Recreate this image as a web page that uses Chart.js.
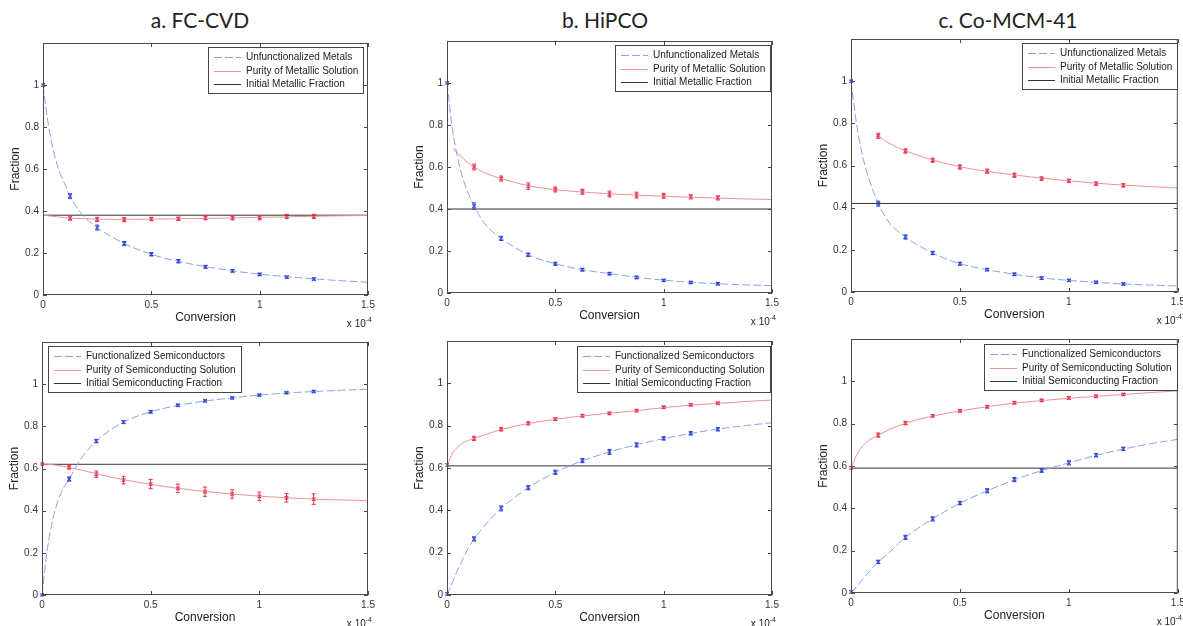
<!DOCTYPE html>
<html>
<head>
<meta charset="utf-8">
<script src="https://cdn.jsdelivr.net/npm/chart.js@4.4.1/dist/chart.umd.min.js"></script>
<style>
body { margin: 0; background: #fff; width: 1183px; height: 626px; overflow: hidden; position: relative; }
.title { position: absolute; top: 7px; font-family: Lato, 'Open Sans', sans-serif; font-size: 21px; color: #222; transform: translateX(-50%); white-space: nowrap; }
canvas { position: absolute; }
</style>
</head>
<body>
<script>
// x values are in units of 1e-4 (shown as "x 10^-4" under each axis)
const curveX = [0, 0.025, 0.05, 0.075, 0.1, 0.125, 0.175, 0.25, 0.375, 0.5, 0.625, 0.75, 0.875, 1, 1.125, 1.25, 1.375, 1.5];
const markerX = [0, 0.125, 0.25, 0.375, 0.5, 0.625, 0.75, 0.875, 1, 1.125, 1.25];
const xTicks = [0, 0.5, 1, 1.5];
const yTicks = [0, 0.2, 0.4, 0.6, 0.8, 1];

const titles = ['a. FC-CVD', 'b. HiPCO', 'c. Co-MCM-41'];
const topLegend = ['Unfunctionalized Metals', 'Purity of Metallic Solution', 'Initial Metallic Fraction'];
const bottomLegend = ['Functionalized Semiconductors', 'Purity of Semiconducting Solution', 'Initial Semiconducting Fraction'];

// a. FC-CVD, metals
const aMetalCurve = [1.0, 0.81, 0.68, 0.59, 0.53, 0.471, 0.39, 0.321, 0.245, 0.194, 0.160, 0.135, 0.115, 0.099, 0.087, 0.077, 0.068, 0.061];
const aMetalPts = [1.0, 0.471, 0.321, 0.245, 0.194, 0.161, 0.134, 0.115, 0.098, 0.085, 0.076];
const aMetalErr = [0.005, 0.012, 0.012, 0.01, 0.008, 0.008, 0.007, 0.006, 0.006, 0.005, 0.005];
const aMetPurityCurve = [0.38, 0.377, 0.374, 0.371, 0.368, 0.366, 0.364, 0.361, 0.360, 0.361, 0.363, 0.365, 0.367, 0.370, 0.372, 0.375, 0.377, 0.379];
const aMetPurityPts = [null, 0.366, 0.360, 0.359, 0.362, 0.363, 0.368, 0.368, 0.368, 0.374, 0.374];
const aMetPurityErr = [0, 0.01, 0.01, 0.01, 0.008, 0.008, 0.01, 0.01, 0.01, 0.01, 0.01];
const aMetInitial = 0.38;

// b. HiPCO, metals
const bMetalCurve = [1.0, 0.78, 0.64, 0.54, 0.47, 0.414, 0.33, 0.26, 0.182, 0.139, 0.111, 0.092, 0.075, 0.061, 0.051, 0.044, 0.039, 0.035];
const bMetalPts = [1.0, 0.414, 0.26, 0.182, 0.139, 0.111, 0.092, 0.074, 0.060, 0.050, 0.044];
const bMetalErr = [0.005, 0.015, 0.01, 0.008, 0.007, 0.006, 0.006, 0.006, 0.005, 0.005, 0.005];
const bMetPurityCurve = [null, 0.69, 0.665, 0.64, 0.618, 0.600, 0.572, 0.545, 0.511, 0.492, 0.481, 0.472, 0.466, 0.461, 0.456, 0.452, 0.448, 0.445];
const bMetPurityPts = [null, 0.600, 0.545, 0.509, 0.493, 0.482, 0.471, 0.466, 0.463, 0.458, 0.453];
const bMetPurityErr = [0, 0.014, 0.012, 0.015, 0.012, 0.012, 0.014, 0.014, 0.012, 0.01, 0.01];
const bMetInitial = 0.40;

// c. Co-MCM-41, metals
const cMetalCurve = [1.0, 0.80, 0.66, 0.56, 0.485, 0.419, 0.33, 0.261, 0.185, 0.134, 0.106, 0.084, 0.067, 0.055, 0.046, 0.038, 0.033, 0.028];
const cMetalPts = [1.0, 0.419, 0.261, 0.185, 0.134, 0.106, 0.084, 0.066, 0.055, 0.046, 0.038];
const cMetalErr = [0.005, 0.012, 0.01, 0.008, 0.007, 0.006, 0.006, 0.006, 0.005, 0.005, 0.005];
const cMetPurityCurve = [null, null, null, null, null, 0.741, 0.705, 0.670, 0.626, 0.594, 0.572, 0.555, 0.540, 0.527, 0.516, 0.507, 0.500, 0.494];
const cMetPurityPts = [null, 0.741, 0.669, 0.625, 0.593, 0.573, 0.554, 0.538, 0.527, 0.514, 0.506];
const cMetPurityErr = [0, 0.012, 0.01, 0.01, 0.01, 0.01, 0.01, 0.008, 0.008, 0.008, 0.008];
const cMetInitial = 0.42;

// a. FC-CVD, semiconductors
const aSemiCurve = [0, 0.22, 0.36, 0.45, 0.51, 0.55, 0.64, 0.73, 0.82, 0.869, 0.899, 0.920, 0.935, 0.948, 0.958, 0.965, 0.971, 0.976];
const aSemiPts = [0, 0.550, 0.730, 0.820, 0.869, 0.900, 0.921, 0.935, 0.948, 0.959, 0.965];
const aSemiErr = [0.005, 0.01, 0.008, 0.007, 0.006, 0.005, 0.005, 0.005, 0.004, 0.004, 0.004];
const aSemiPurityCurve = [0.621, 0.620, 0.618, 0.614, 0.610, 0.605, 0.594, 0.575, 0.547, 0.525, 0.506, 0.491, 0.479, 0.469, 0.461, 0.455, 0.451, 0.447];
const aSemiPurityPts = [0.621, 0.607, 0.573, 0.545, 0.526, 0.506, 0.490, 0.479, 0.468, 0.461, 0.455];
const aSemiPurityErr = [0.005, 0.01, 0.015, 0.018, 0.022, 0.02, 0.022, 0.02, 0.02, 0.02, 0.025];
const aSemiInitial = 0.62;

// b. HiPCO, semiconductors
const bSemiCurve = [0, 0.06, 0.12, 0.175, 0.225, 0.265, 0.33, 0.409, 0.507, 0.579, 0.634, 0.676, 0.710, 0.739, 0.763, 0.784, 0.800, 0.814];
const bSemiPts = [0.005, 0.265, 0.409, 0.507, 0.580, 0.635, 0.676, 0.709, 0.740, 0.764, 0.783];
const bSemiErr = [0.006, 0.01, 0.012, 0.01, 0.01, 0.01, 0.012, 0.01, 0.008, 0.008, 0.008];
const bSemiPurityCurve = [0.61, 0.67, 0.70, 0.72, 0.73, 0.740, 0.757, 0.782, 0.810, 0.830, 0.846, 0.859, 0.871, 0.885, 0.897, 0.905, 0.914, 0.921];
const bSemiPurityPts = [0.614, 0.740, 0.783, 0.811, 0.831, 0.847, 0.858, 0.871, 0.887, 0.898, 0.906];
const bSemiPurityErr = [0.006, 0.01, 0.008, 0.007, 0.006, 0.006, 0.006, 0.006, 0.005, 0.005, 0.005];
const bSemiInitial = 0.61;

// c. Co-MCM-41, semiconductors
const cSemiCurve = [0, 0.03, 0.06, 0.09, 0.12, 0.147, 0.19, 0.263, 0.350, 0.424, 0.483, 0.535, 0.578, 0.615, 0.650, 0.680, 0.705, 0.726];
const cSemiPts = [0.005, 0.147, 0.263, 0.350, 0.425, 0.483, 0.536, 0.578, 0.615, 0.651, 0.681];
const cSemiErr = [0.006, 0.008, 0.01, 0.01, 0.008, 0.01, 0.01, 0.008, 0.01, 0.008, 0.008];
const cSemiPurityCurve = [0.59, 0.65, 0.69, 0.715, 0.733, 0.745, 0.772, 0.802, 0.836, 0.860, 0.880, 0.897, 0.909, 0.920, 0.929, 0.938, 0.947, 0.955];
const cSemiPurityPts = [0.591, 0.746, 0.803, 0.837, 0.861, 0.880, 0.899, 0.910, 0.921, 0.929, 0.938];
const cSemiPurityErr = [0.006, 0.01, 0.008, 0.006, 0.006, 0.006, 0.006, 0.006, 0.006, 0.006, 0.005];
const cSemiInitial = 0.59;

Chart.defaults.font.family = "'Liberation Sans', Arial, sans-serif";
Chart.defaults.font.size = 10;
Chart.defaults.color = '#222';

const blueLine = '#8aa3e8', redLine = '#f0909a';
const blueMark = '#2f42d4', redMark = '#e5324c';

const toPts = (xs, ys, errs) => xs.map((x, i) => ({ x: x, y: ys[i], e: errs ? errs[i] : 0 })).filter(p => p.y !== null);
const plainNum = v => String(Math.round(v * 100) / 100);

// vertical error bars with small caps
const errorBars = {
    id: 'errorBars',
    afterDatasetsDraw(chart) {
        const { ctx, scales: { x, y } } = chart;
        chart.data.datasets.forEach(ds => {
            if (!ds.withErrors) return;
            ctx.save();
            ctx.strokeStyle = ds.borderColor;
            ctx.lineWidth = 1;
            ds.data.forEach(p => {
                const px = x.getPixelForValue(p.x);
                const y1 = y.getPixelForValue(p.y - p.e), y2 = y.getPixelForValue(p.y + p.e);
                ctx.beginPath();
                ctx.moveTo(px, y1); ctx.lineTo(px, y2);
                ctx.moveTo(px - 2, y1); ctx.lineTo(px + 2, y1);
                ctx.moveTo(px - 2, y2); ctx.lineTo(px + 2, y2);
                ctx.stroke();
            });
            ctx.restore();
        });
    }
};

// matlab style box with inward ticks, plus the x 10^-4 exponent
const frame = {
    id: 'frame',
    afterDatasetsDraw(chart) {
        const { ctx, chartArea: a, scales: { x, y } } = chart;
        ctx.save();
        ctx.strokeStyle = '#4a4a4a';
        ctx.lineWidth = 1;
        ctx.strokeRect(a.left + 0.5, a.top + 0.5, a.right - a.left - 1, a.bottom - a.top - 1);
        ctx.beginPath();
        xTicks.forEach(v => {
            const px = Math.round(x.getPixelForValue(v)) + 0.5;
            ctx.moveTo(px, a.bottom); ctx.lineTo(px, a.bottom - 4);
            ctx.moveTo(px, a.top); ctx.lineTo(px, a.top + 4);
        });
        yTicks.forEach(v => {
            const py = Math.round(y.getPixelForValue(v)) + 0.5;
            ctx.moveTo(a.left, py); ctx.lineTo(a.left + 4, py);
            ctx.moveTo(a.right, py); ctx.lineTo(a.right - 4, py);
        });
        ctx.stroke();
        ctx.fillStyle = '#222';
        ctx.textAlign = 'right';
        ctx.textBaseline = 'alphabetic';
        ctx.font = "7px 'Liberation Sans', Arial, sans-serif";
        const supW = ctx.measureText('-4').width;
        ctx.fillText('-4', a.right + 4, a.bottom + 27);
        ctx.font = "10px 'Liberation Sans', Arial, sans-serif";
        ctx.fillText('x 10', a.right + 4 - supW, a.bottom + 32);
        ctx.restore();
    }
};

// legend box drawn inside the plot area
const boxLegend = {
    id: 'boxLegend',
    afterDraw(chart, args, opts) {
        const { ctx, chartArea: a } = chart;
        const ds = chart.data.datasets.slice(0, 3);
        ctx.save();
        ctx.font = "10px 'Liberation Sans', Arial, sans-serif";
        const tw = Math.max(...ds.map(d => ctx.measureText(d.label).width));
        const w = Math.round(6 + 27 + 5 + tw + 5), h = 46;
        const left = Math.round(opts.side === 'left' ? a.left + opts.dx : a.right - opts.dx - w);
        const top = Math.round(a.top + opts.dy);
        ctx.fillStyle = '#fff';
        ctx.fillRect(left, top, w, h);
        ctx.strokeStyle = '#444';
        ctx.lineWidth = 1;
        ctx.strokeRect(left + 0.5, top + 0.5, w, h);
        ds.forEach((d, i) => {
            const yy = Math.round(top + 10 + i * 13.5) + 0.5;
            ctx.strokeStyle = d.borderColor;
            ctx.setLineDash(d.borderDash || []);
            ctx.beginPath();
            ctx.moveTo(left + 6, yy); ctx.lineTo(left + 33, yy);
            ctx.stroke();
            ctx.setLineDash([]);
            ctx.fillStyle = '#222';
            ctx.textAlign = 'left';
            ctx.textBaseline = 'middle';
            ctx.fillText(d.label, left + 38, yy);
        });
        ctx.restore();
    }
};

const panels = [
    { L: 43, T: 43, R: 368, B: 295, rp: 8, legend: topLegend, side: 'right', dx: 5, dy: 4,
      blue: aMetalCurve, bluePts: aMetalPts, blueErr: aMetalErr, red: aMetPurityCurve, redPts: aMetPurityPts, redErr: aMetPurityErr, init: aMetInitial },
    { L: 447, T: 41, R: 772, B: 293, rp: 8, legend: topLegend, side: 'right', dx: 2, dy: 4,
      blue: bMetalCurve, bluePts: bMetalPts, blueErr: bMetalErr, red: bMetPurityCurve, redPts: bMetPurityPts, redErr: bMetPurityErr, init: bMetInitial },
    { L: 851, T: 39, R: 1178, B: 292, rp: 5, legend: topLegend, side: 'right', dx: 1, dy: 4,
      blue: cMetalCurve, bluePts: cMetalPts, blueErr: cMetalErr, red: cMetPurityCurve, redPts: cMetPurityPts, redErr: cMetPurityErr, init: cMetInitial },
    { L: 42, T: 342, R: 368, B: 595, rp: 8, legend: bottomLegend, side: 'left', dx: 6, dy: 4,
      blue: aSemiCurve, bluePts: aSemiPts, blueErr: aSemiErr, red: aSemiPurityCurve, redPts: aSemiPurityPts, redErr: aSemiPurityErr, init: aSemiInitial },
    { L: 447, T: 341, R: 772, B: 595, rp: 8, legend: bottomLegend, side: 'right', dx: 2, dy: 5,
      blue: bSemiCurve, bluePts: bSemiPts, blueErr: bSemiErr, red: bSemiPurityCurve, redPts: bSemiPurityPts, redErr: bSemiPurityErr, init: bSemiInitial },
    { L: 851, T: 339, R: 1178, B: 593, rp: 5, legend: bottomLegend, side: 'right', dx: 1, dy: 5,
      blue: cSemiCurve, bluePts: cSemiPts, blueErr: cSemiErr, red: cSemiPurityCurve, redPts: cSemiPurityPts, redErr: cSemiPurityErr, init: cSemiInitial }
];

[200, 605, 1008].forEach((cx, i) => {
    const d = document.createElement('div');
    d.className = 'title';
    d.style.left = cx + 'px';
    d.textContent = titles[i];
    document.body.appendChild(d);
});

panels.forEach(p => {
    const canvas = document.createElement('canvas');
    canvas.width = 45 + (p.R - p.L) + p.rp;
    canvas.height = 6 + (p.B - p.T) + 36;
    canvas.style.left = (p.L - 45) + 'px';
    canvas.style.top = (p.T - 6) + 'px';
    document.body.appendChild(canvas);

    new Chart(canvas.getContext('2d'), {
        type: 'line',
        data: {
            datasets: [
                { label: p.legend[0], data: toPts(curveX, p.blue), borderColor: blueLine, borderWidth: 1, borderDash: [8, 3], pointRadius: 0, cubicInterpolationMode: 'monotone' },
                { label: p.legend[1], data: toPts(curveX, p.red), borderColor: redLine, borderWidth: 1, pointRadius: 0, cubicInterpolationMode: 'monotone' },
                { label: p.legend[2], data: [{ x: 0, y: p.init }, { x: 1.5, y: p.init }], borderColor: '#333', borderWidth: 1, pointRadius: 0 },
                { data: toPts(markerX, p.bluePts, p.blueErr), withErrors: true, showLine: false, pointStyle: 'crossRot', pointRadius: 2.5, borderColor: blueMark, borderWidth: 1.2 },
                { data: toPts(markerX, p.redPts, p.redErr), withErrors: true, showLine: false, pointStyle: 'crossRot', pointRadius: 2.5, borderColor: redMark, borderWidth: 1.2 }
            ]
        },
        options: {
            responsive: false,
            animation: false,
            devicePixelRatio: 1,
            layout: { padding: { top: 6, right: p.rp, left: 0, bottom: 0 } },
            plugins: {
                legend: { display: false },
                tooltip: { enabled: false },
                boxLegend: { side: p.side, dx: p.dx, dy: p.dy }
            },
            scales: {
                x: {
                    type: 'linear', min: 0, max: 1.5,
                    grid: { display: false, drawTicks: false },
                    border: { display: false },
                    ticks: { stepSize: 0.5, padding: 4, maxRotation: 0, color: '#333', callback: plainNum },
                    title: { display: true, text: 'Conversion', font: { size: 12 }, padding: { top: 0, bottom: 6 } },
                    afterFit(s) { s.height = 36; s.paddingLeft = 0; s.paddingRight = 0; }
                },
                y: {
                    min: 0, max: 1.2,
                    grid: { display: false, drawTicks: false },
                    border: { display: false },
                    ticks: { stepSize: 0.2, padding: 4, color: '#333', callback: plainNum },
                    afterBuildTicks(s) { s.ticks = s.ticks.filter(t => t.value <= 1.0001); },
                    title: { display: true, text: 'Fraction', font: { size: 12 }, padding: { top: 10, bottom: 0 } },
                    afterFit(s) { s.width = 45; s.paddingTop = 0; s.paddingBottom = 0; }
                }
            }
        },
        plugins: [errorBars, frame, boxLegend]
    });
});
</script>
</body>
</html>
